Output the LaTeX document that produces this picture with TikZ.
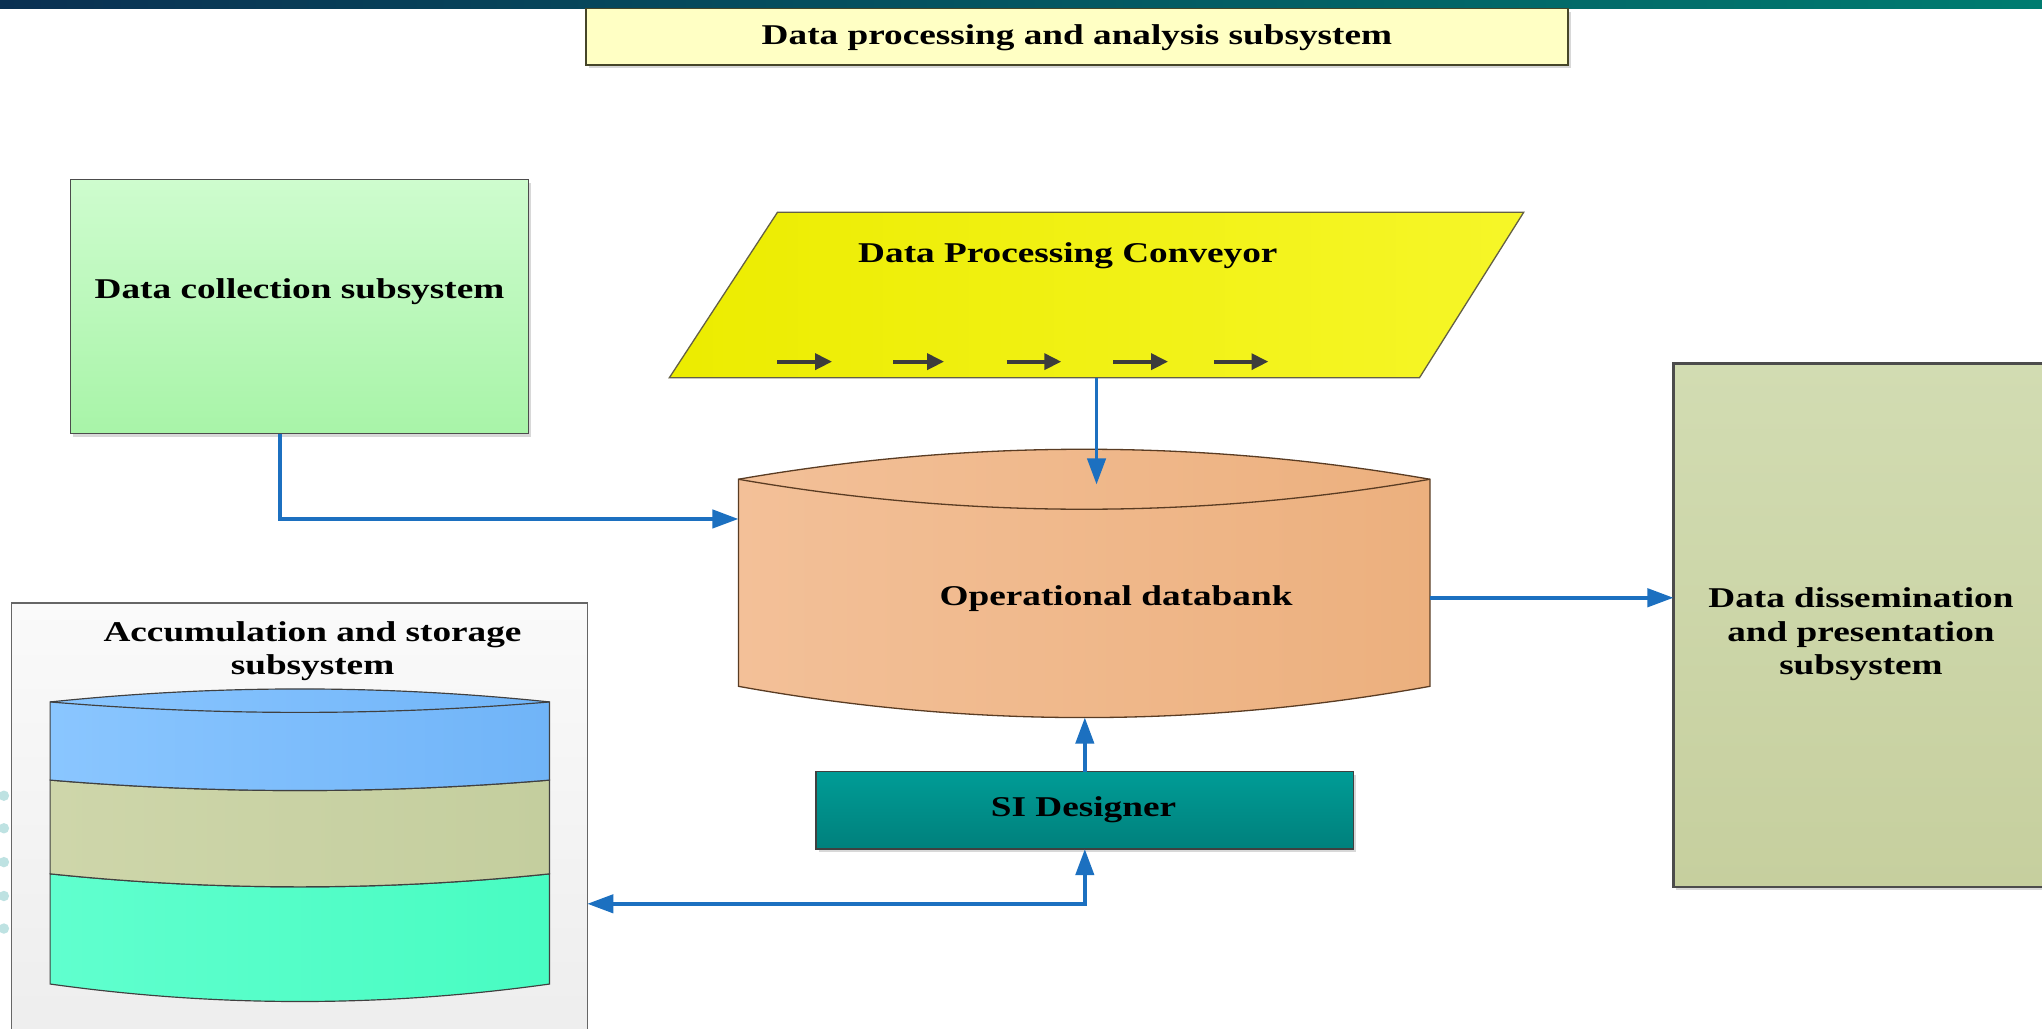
\documentclass[tikz,border=0pt]{standalone}
\usepackage{fontspec}
\newfontfamily\lblfont{Liberation Serif}[FakeStretch=1.3]
\usetikzlibrary{arrows.meta,shadows,calc}
\definecolor{arrblue}{RGB}{28,112,192}
\definecolor{barL}{RGB}{10,48,82}
\definecolor{barR}{RGB}{0,124,112}
\definecolor{titlefill}{RGB}{255,255,196}
\definecolor{titleline}{RGB}{70,70,40}
\definecolor{greenT}{RGB}{206,252,206}
\definecolor{greenB}{RGB}{168,244,168}
\definecolor{yelL}{RGB}{236,236,0}
\definecolor{yelR}{RGB}{246,246,40}
\definecolor{odbL}{RGB}{243,192,152}
\definecolor{odbR}{RGB}{236,176,126}
\definecolor{odbline}{RGB}{90,60,35}
\definecolor{dissT}{RGB}{210,220,178}
\definecolor{dissB}{RGB}{198,207,158}
\definecolor{siT}{RGB}{0,156,150}
\definecolor{siB}{RGB}{0,128,124}
\definecolor{accT}{RGB}{250,250,250}
\definecolor{accB}{RGB}{236,236,236}
\definecolor{blueL}{RGB}{138,198,255}
\definecolor{blueR}{RGB}{112,180,248}
\definecolor{oliveL}{RGB}{206,214,170}
\definecolor{oliveR}{RGB}{196,206,158}
\definecolor{aquaL}{RGB}{96,255,206}
\definecolor{aquaR}{RGB}{72,252,194}
\definecolor{dotc}{RGB}{190,226,226}
\definecolor{smallarr}{RGB}{60,60,60}
\begin{document}
\begin{tikzpicture}[x=1pt,y=-1pt,
  lbl/.style={font=\lblfont\bfseries\fontsize{22}{26}\selectfont, text=black, align=center, inner sep=0pt},
  dshadow/.style={drop shadow={shadow xshift=2pt,shadow yshift=-2.5pt,opacity=0.25,fill=black!60}},
  arr/.style={draw=arrblue, line width=2.8pt, -{Triangle[length=20pt,width=14pt]}},
  darr/.style={draw=arrblue, line width=2.8pt, {Triangle[length=20pt,width=14pt]}-{Triangle[length=20pt,width=14pt]}},
  plainbox/.style={inner sep=0pt, outer sep=0pt},
  cylline/.style={draw=black!75, line width=0.9pt}
]
\useasboundingbox (0,0) rectangle (1568,790);
\fill[white] (0,0) rectangle (1568,790);

% top bar
\shade[left color=barL, right color=barR] (0,0) rectangle (1568,6.5);

% left dots
\foreach \yy in {611,636,662,688,713} \fill[dotc] (3,\yy) circle (4);

% title
\node[plainbox, draw=titleline, line width=1.3pt, fill=titlefill, dshadow,
      minimum width=754pt, minimum height=43.5pt] (title) at (827,28.3) {};
\node[lbl] (titletxt) at (827,29) {Data processing and analysis subsystem};

% data collection
\node[plainbox, draw=black!70, line width=1pt, top color=greenT, bottom color=greenB, dshadow,
      minimum width=352pt, minimum height=195pt] (dcol) at (230,235.5) {};
\node[lbl] (dcoltxt) at (230,224) {Data collection subsystem};

% conveyor
\node[plainbox, minimum width=656pt, minimum height=127pt] (conv) at (842,226.5) {};
\path[draw=black!70!yellow, line width=1pt, left color=yelL, right color=yelR]
  (597,163) -- (1170,163) -- (1090,290) -- (514,290) -- cycle;
\node[lbl] (convtxt) at (820,196) {Data Processing Conveyor};
\foreach \xa/\xb in {597/639,686/725,773/815,855/897,932/974}
  \draw[smallarr, line width=3.2pt, -{Triangle[length=13pt,width=12pt]}] (\xa,277.7) -- (\xb,277.7);

% operational databank
\node[plainbox, minimum width=531pt, minimum height=206pt] (odb) at (832.5,448) {};
\path[draw=odbline, line width=1pt, left color=odbL, right color=odbR]
  (567,368) .. controls +(177,-30.7) and +(-177,-30.7) .. (1098,368)
  -- (1098,527) .. controls +(-177,32) and +(177,32) .. (567,527) -- cycle;
\draw[odbline, line width=1pt] (567,368) .. controls +(177,30.7) and +(-177,30.7) .. (1098,368);
\node[lbl] (odbtxt) at (857,460) {Operational databank};
\coordinate (odbin) at (842,372);

% dissemination
\node[plainbox, draw=black!70, line width=2pt, top color=dissT, bottom color=dissB, dshadow,
      minimum width=295pt, minimum height=402pt] (diss) at (1432.5,480) {};
\node[lbl] (disstxt) at (1429,487) {Data dissemination\\and presentation\\subsystem};

% SI designer
\node[plainbox, draw=black!75, line width=1pt, top color=siT, bottom color=siB, dshadow,
      minimum width=413pt, minimum height=59.5pt] (si) at (833,622.25) {};
\node[lbl] (sitxt) at (832,622) {SI Designer};

% accumulation and storage
\node[plainbox, draw=black!60, line width=1pt, top color=accT, bottom color=accB,
      minimum width=442pt, minimum height=367pt] (acc) at (230,646.5) {};
\node[lbl] (acctxt) at (240,500) {Accumulation and storage\\subsystem};
% layered cylinder
\path[cylline, left color=aquaL, right color=aquaR]
  (38.5,671) .. controls +(127.8,13.3) and +(-127.8,13.3) .. (422,671)
  -- (422,755.6) .. controls +(-127.8,17.9) and +(127.8,17.9) .. (38.5,755.6) -- cycle;
\path[cylline, left color=oliveL, right color=oliveR]
  (38.5,599) .. controls +(127.8,10.7) and +(-127.8,10.7) .. (422,599)
  -- (422,671) .. controls +(-127.8,13.3) and +(127.8,13.3) .. (38.5,671) -- cycle;
\path[cylline, left color=blueL, right color=blueR]
  (38.5,539) .. controls +(127.8,-13.3) and +(-127.8,-13.3) .. (422,539)
  -- (422,599) .. controls +(-127.8,10.7) and +(127.8,10.7) .. (38.5,599) -- cycle;
\draw[cylline] (38.5,539) .. controls +(127.8,10.7) and +(-127.8,10.7) .. (422,539);

% connectors
\draw[arr] ([xshift=-15pt]dcol.south) |- ([yshift=49.5pt]odb.west);
\draw[arr] (conv.south) -- (odbin);
\draw[arr] ([yshift=-11pt]odb.east) -- ([yshift=-11pt]odb.east -| diss.west);
\draw[arr] (si.north) -- (si.north |- odb.south);
\draw[darr] (si.south) |- ([yshift=-47.5pt]acc.east);
\end{tikzpicture}
\end{document}
